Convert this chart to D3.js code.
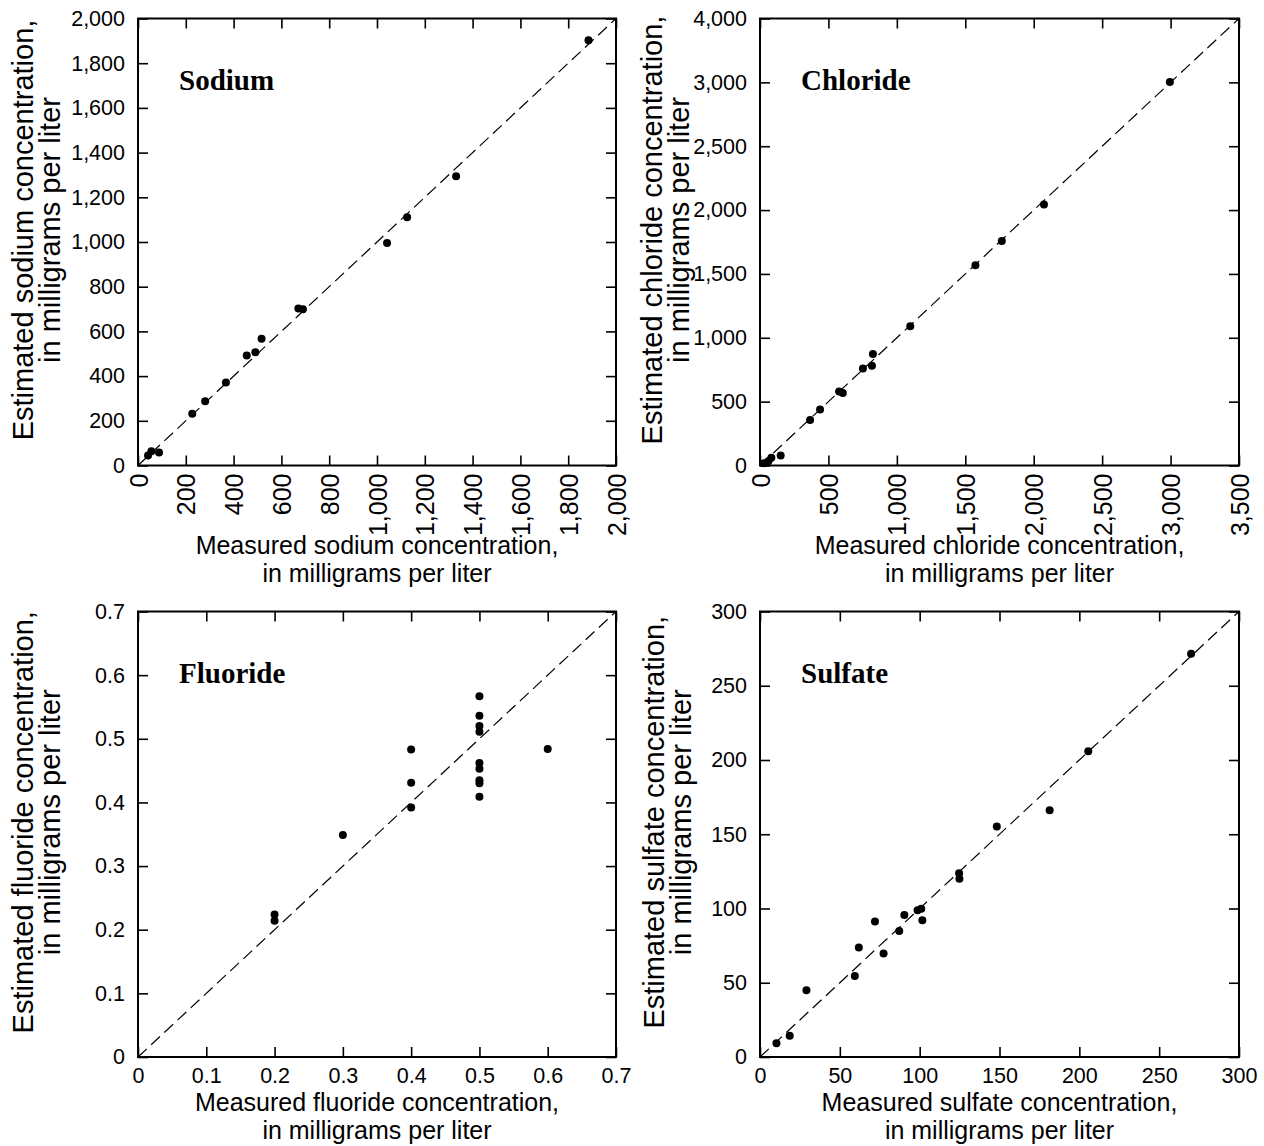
<!DOCTYPE html>
<html>
<head>
<meta charset="utf-8">
<script src="https://cdn.jsdelivr.net/npm/d3@7"></script>
<style>
  body { margin: 0; background: #fff; }
  svg text { font-family: "Liberation Sans", Arial, sans-serif; fill: #000; }
</style>
</head>
<body>
<script>

// measured vs estimated concentrations
var sodiumMeasured  = [42, 56, 88, 227, 281, 368, 455, 491, 517, 671, 690, 1042, 1126, 1331, 1885];
var sodiumEstimated = [45, 64, 58, 232, 287, 371, 492, 507, 567, 702, 699, 995, 1111, 1294, 1903];

var chlorideMeasured  = [30, 61, 83, 151, 366, 439, 578, 605, 752, 818, 825, 1098, 1574, 1767, 2075, 2995];
var chlorideEstimated = [18, 34, 60, 78, 356, 439, 580, 567, 759, 782, 873, 1091, 1567, 1757, 2043, 3002];

var fluorideMeasured  = [0.2, 0.2, 0.3, 0.4, 0.4, 0.4, 0.5, 0.5, 0.5, 0.5, 0.5, 0.5, 0.5, 0.5, 0.5, 0.6];
var fluorideEstimated = [0.224, 0.214, 0.349, 0.483, 0.431, 0.392, 0.567, 0.536, 0.520, 0.511, 0.462, 0.453, 0.435, 0.430, 0.409, 0.484];

var sulfateMeasured  = [10.3, 18.6, 29.1, 59.4, 61.9, 72, 77.4, 87.2, 90.4, 98.7, 101, 101.7, 124.7, 124.9, 148.3, 181.4, 205.6, 270];
var sulfateEstimated = [9.2, 14.3, 44.9, 54.5, 73.8, 91.2, 69.7, 84.9, 95.7, 98.8, 99.9, 92.1, 123.8, 120, 155.3, 166.1, 205.9, 271.6];

// tick values and labels
var sodiumTicks = [0, 200, 400, 600, 800, 1000, 1200, 1400, 1600, 1800, 2000];
var chlorideTicks = [0, 500, 1000, 1500, 2000, 2500, 3000, 3500];
// the top label of the chloride y axis reads 4,000 in the original figure
var chlorideYLabels = ["0", "500", "1,000", "1,500", "2,000", "2,500", "3,000", "4,000"];
var fluorideTicks = [0, 0.1, 0.2, 0.3, 0.4, 0.5, 0.6, 0.7];
var sulfateTicks = [0, 50, 100, 150, 200, 250, 300];

var commaFmt = d3.format(",");

var panels = [
  { name: "Sodium", word: "sodium", measured: sodiumMeasured, estimated: sodiumEstimated,
    max: 2000, ticks: sodiumTicks, yLabels: sodiumTicks.map(commaFmt), xLabels: sodiumTicks.map(commaFmt),
    rotateX: true, left: 138, top: 18.5, right: 616, bottom: 465.5, yTitleOff: 105 },
  { name: "Chloride", word: "chloride", measured: chlorideMeasured, estimated: chlorideEstimated,
    max: 3500, ticks: chlorideTicks, yLabels: chlorideYLabels, xLabels: chlorideTicks.map(commaFmt),
    rotateX: true, left: 760, top: 18.5, right: 1239, bottom: 465.5, yTitleOff: 98 },
  { name: "Fluoride", word: "fluoride", measured: fluorideMeasured, estimated: fluorideEstimated,
    max: 0.7, ticks: fluorideTicks, yLabels: fluorideTicks.map(String), xLabels: fluorideTicks.map(String),
    rotateX: false, left: 138, top: 611.5, right: 616, bottom: 1057, yTitleOff: 105 },
  { name: "Sulfate", word: "sulfate", measured: sulfateMeasured, estimated: sulfateEstimated,
    max: 300, ticks: sulfateTicks, yLabels: sulfateTicks.map(String), xLabels: sulfateTicks.map(String),
    rotateX: false, left: 760, top: 611.5, right: 1239, bottom: 1057, yTitleOff: 96 }
];

var svg = d3.select("body")
            .append("svg")
            .attr("width", 1264)
            .attr("height", 1146);

function drawPanel(p){

  var width = p.right - p.left;
  var height = p.bottom - p.top;

  var g = svg.append("g")
             .attr("transform", "translate(" + p.left + "," + p.top + ")");

  var xScale = d3.scaleLinear().domain([0, p.max]).range([0, width]);
  var yScale = d3.scaleLinear().domain([0, p.max]).range([height, 0]);

  // bottom axis, ticks pointing inward
  var xAxis = g.append("g")
    .attr("class", "x axis")
    .attr("transform", "translate(0," + height + ")")
    .call(d3.axisBottom(xScale).tickValues(p.ticks).tickSize(-10).tickPadding(11)
          .tickFormat(function(d, i){ return p.xLabels[i]; }));

  if (p.rotateX){
    xAxis.selectAll("text")
      .attr("transform", "rotate(-90)")
      .attr("text-anchor", "end")
      .attr("x", -8)
      .attr("y", 0)
      .attr("dy", "0.36em")
      .style("font-size", "25px");
  } else {
    xAxis.selectAll("text").style("font-size", "21.5px");
  }

  // left axis
  g.append("g")
    .attr("class", "y axis")
    .call(d3.axisLeft(yScale).tickValues(p.ticks).tickSize(-10).tickPadding(13)
          .tickFormat(function(d, i){ return p.yLabels[i]; }))
    .selectAll("text")
    .style("font-size", "21.5px");

  // mirrored ticks on top and right
  g.append("g")
    .call(d3.axisTop(xScale).tickValues(p.ticks).tickSize(-10).tickFormat(""));
  g.append("g")
    .attr("transform", "translate(" + width + ",0)")
    .call(d3.axisRight(yScale).tickValues(p.ticks).tickSize(-10).tickFormat(""));

  g.selectAll(".domain").remove();
  g.selectAll(".tick line").attr("stroke", "#000").attr("stroke-width", 1.6);

  // 1:1 line
  g.append("line")
    .attr("x1", xScale(0)).attr("y1", yScale(0))
    .attr("x2", xScale(p.max)).attr("y2", yScale(p.max))
    .attr("stroke", "#000")
    .attr("stroke-width", 1.2)
    .attr("stroke-dasharray", "12,6");

  // frame
  g.append("rect")
    .attr("width", width)
    .attr("height", height)
    .attr("fill", "none")
    .attr("stroke", "#000")
    .attr("stroke-width", 2);

  // points
  g.selectAll("circle")
    .data(p.measured)
    .enter()
    .append("circle")
    .attr("cx", function(d){ return xScale(d); })
    .attr("cy", function(d, i){ return yScale(p.estimated[i]); })
    .attr("r", 4)
    .attr("fill", "#000");

  // panel title
  g.append("text")
    .attr("x", 41)
    .attr("y", 71)
    .style("font-family", "'Liberation Serif', 'Times New Roman', serif")
    .style("font-weight", "bold")
    .style("font-size", "29px")
    .text(p.name);

  // x axis title
  var xt = g.append("text")
    .attr("text-anchor", "middle")
    .style("font-size", "25px");
  var xTop = p.rotateX ? 88 : 54;
  xt.append("tspan").attr("x", width / 2).attr("y", height + xTop)
    .text("Measured " + p.word + " concentration,");
  xt.append("tspan").attr("x", width / 2).attr("y", height + xTop + 28)
    .text("in milligrams per liter");

  // y axis title
  var cy = height / 2 - 12;
  var yt = g.append("text")
    .attr("text-anchor", "middle")
    .attr("transform", "rotate(-90)")
    .style("font-size", "29px");
  yt.append("tspan").attr("x", -cy).attr("y", -p.yTitleOff)
    .text("Estimated " + p.word + " concentration,");
  yt.append("tspan").attr("x", -cy).attr("y", -p.yTitleOff + 27)
    .text("in milligrams per liter");
}

panels.forEach(drawPanel);

</script>
</body>
</html>
